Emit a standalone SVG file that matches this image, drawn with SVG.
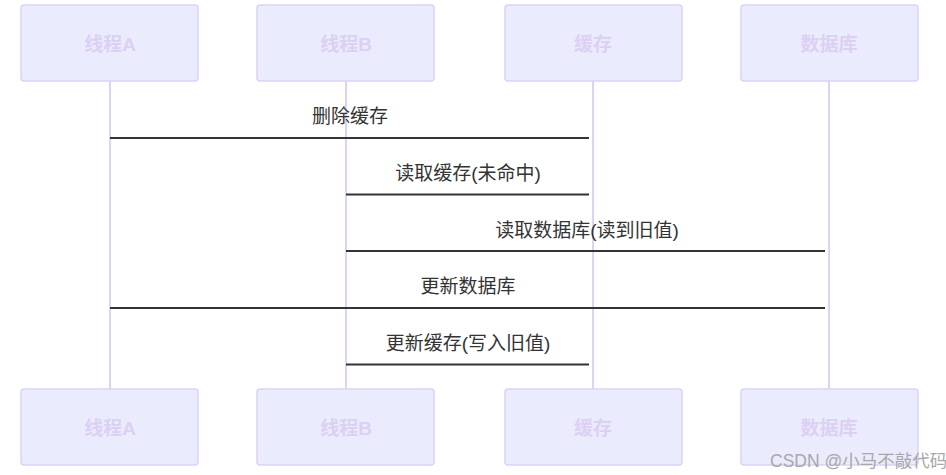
<svg xmlns="http://www.w3.org/2000/svg" width="946" height="475" viewBox="0 0 946 475">
<style>
.actor rect{fill:#EBEBFE;stroke:#DDD2F6;stroke-width:1.5}
.actor text{fill:#DCD0F3;font-family:"Liberation Sans","Noto Sans CJK SC",sans-serif;font-size:19px;font-weight:bold;text-anchor:middle;dominant-baseline:central}
.life{stroke:#DED3F6;stroke-width:2}
.msg{stroke:#333;stroke-width:2}
.lbl{fill:#333;font-family:"Liberation Sans","Noto Sans CJK SC",sans-serif;font-size:19px;text-anchor:middle}
.wm{fill:#A8A8A8;font-family:"Liberation Sans","Noto Sans CJK SC",sans-serif;font-size:17.5px}
</style>
<rect width="946" height="475" fill="#fff"/>
<g id="lifelines">
<line class="life" x1="110" y1="81" x2="110" y2="389"/>
<line class="life" x1="346" y1="81" x2="346" y2="389"/>
<line class="life" x1="593" y1="81" x2="593" y2="389"/>
<line class="life" x1="829" y1="81" x2="829" y2="389"/>
</g>
<g id="actorA-top" class="actor"><rect x="21" y="5" width="177" height="76" rx="3"/><text x="110" y="44">线程A</text></g>
<g id="actorB-top" class="actor"><rect x="257" y="5" width="177" height="76" rx="3"/><text x="346" y="44">线程B</text></g>
<g id="cache-top" class="actor"><rect x="505" y="5" width="177" height="76" rx="3"/><text x="593" y="44">缓存</text></g>
<g id="db-top" class="actor"><rect x="741" y="5" width="177" height="76" rx="3"/><text x="829" y="44">数据库</text></g>
<g id="actorA-bottom" class="actor"><rect x="21" y="389" width="177" height="76" rx="3"/><text x="110" y="428">线程A</text></g>
<g id="actorB-bottom" class="actor"><rect x="257" y="389" width="177" height="76" rx="3"/><text x="346" y="428">线程B</text></g>
<g id="cache-bottom" class="actor"><rect x="505" y="389" width="177" height="76" rx="3"/><text x="593" y="428">缓存</text></g>
<g id="db-bottom" class="actor"><rect x="741" y="389" width="177" height="76" rx="3"/><text x="829" y="428">数据库</text></g>
<g id="connectors">
<line class="msg" x1="110" y1="138" x2="589" y2="138"/>
<line class="msg" x1="346" y1="194.5" x2="589" y2="194.5"/>
<line class="msg" x1="346" y1="251" x2="825" y2="251"/>
<line class="msg" x1="110" y1="308" x2="825" y2="308"/>
<line class="msg" x1="346" y1="364.5" x2="589" y2="364.5"/>
<text class="lbl" x="350" y="123">删除缓存</text>
<text class="lbl" x="468" y="180">读取缓存(未命中)</text>
<text class="lbl" x="587" y="237">读取数据库(读到旧值)</text>
<text class="lbl" x="468" y="293">更新数据库</text>
<text class="lbl" x="468" y="350">更新缓存(写入旧值)</text>
</g>
<text class="wm" x="770" y="467">CSDN @小马不敲代码</text>
</svg>
